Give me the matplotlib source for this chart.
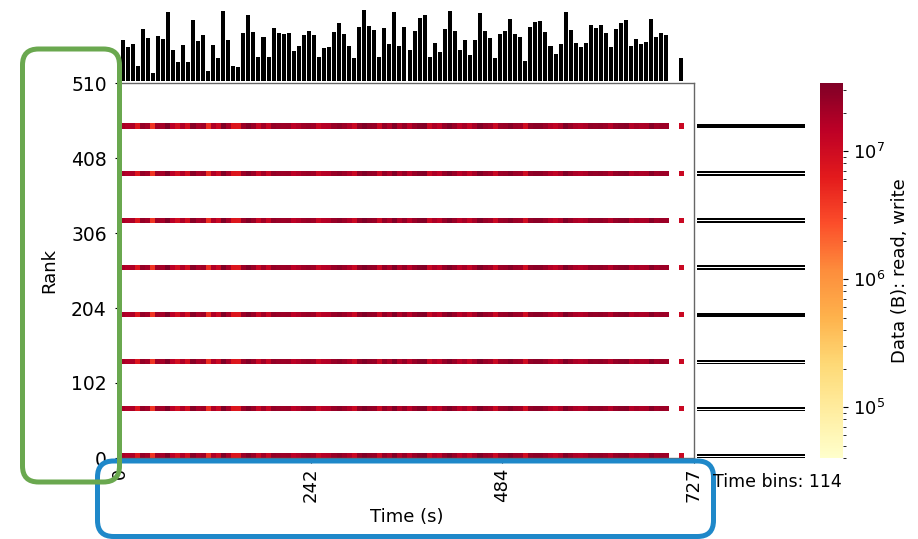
import numpy as np
import matplotlib
matplotlib.use("Agg")
import matplotlib.pyplot as plt
from matplotlib.colors import LogNorm
import matplotlib.patches as mpatches
from matplotlib.transforms import IdentityTransform

# ---------------- data ----------------
n_bins = 114
t_max = 727
n_ranks = 510
x_ticks = [0, 242, 484, 727]
y_ticks = [0, 102, 204, 306, 408, 510]

# relative I/O volume per time bin, bins 0..113
bin_volume = [120,
    100, 110, 45, 153, 127, 25, 133, 125, 204, 90, 55, 107, 57, 179, 119, 135, 28, 107, 68, 206,
    120, 45, 42, 141, 194, 144, 70, 129, 72, 157, 141, 138, 141, 88, 103, 135, 147, 135, 70, 96,
    101, 145, 172, 139, 104, 68, 160, 209, 163, 150, 70, 157, 110, 202, 104, 160, 90, 146, 185, 195,
    70, 113, 85, 153, 207, 148, 90, 120, 78, 120, 200, 148, 128, 68, 139, 148, 183, 139, 130, 60,
    158, 175, 178, 143, 102, 79, 110, 204, 151, 113, 99, 113, 164, 156, 164, 141, 101, 153, 172, 181,
    102, 125, 109, 116, 183, 130, 141, 136,
    0, 0, 68, 0, 0]
bytes_per_unit = 1.63e5          # bytes per rank per unit of bin_volume

io_group_start = [0, 64, 128, 192, 256, 320, 384, 448]
ranks_per_group = 7

vmin, vmax = 4.0e4, 3.4e7

# ---------------- build matrix ----------------
vol = np.array(bin_volume, dtype=float) * bytes_per_unit
mat = np.zeros((n_ranks, n_bins))
for s in io_group_start:
    for r in range(s, s + ranks_per_group):
        mat[r, :] = vol
mat_m = np.ma.masked_less_equal(mat, 0)

# ---------------- figure ----------------
W, H = 918, 539
fig = plt.figure(figsize=(W / 100, H / 100), dpi=100)

def fr(x0, y0, x1, y1):
    return [x0 / W, 1 - y1 / H, (x1 - x0) / W, (y1 - y0) / H]

ax = fig.add_axes(fr(120, 83, 694, 458))
ax_top = fig.add_axes(fr(120, 10, 694, 81))
ax_right = fig.add_axes(fr(697, 83, 805, 458))
cax = fig.add_axes(fr(820, 83, 843, 458))

cmap = plt.get_cmap("YlOrRd").copy()
cmap.set_bad("white")
im = ax.imshow(mat_m, origin="lower", aspect="auto", cmap=cmap,
               norm=LogNorm(vmin=vmin, vmax=vmax),
               extent=[0, t_max, 0, n_ranks], interpolation="nearest")
ax.set_xlim(0, t_max)
ax.set_ylim(0, n_ranks)
ax.set_xticks(x_ticks)
ax.set_xticklabels([str(v) for v in x_ticks], rotation=90, fontsize=13)
ax.set_yticks(y_ticks)
ax.set_yticklabels([str(v) for v in y_ticks], fontsize=13.5)
ax.tick_params(axis="y", pad=6)
ax.set_xlabel("Time (s)", fontsize=13)
ax.set_ylabel("Rank", fontsize=13, labelpad=9)
for sp in ax.spines.values():
    sp.set_color("#666666")
    sp.set_linewidth(1.0)

# top bars: sum over ranks per time bin
edges = np.linspace(0, t_max, n_bins + 1)
bw = edges[1] - edges[0]
centers = edges[:-1] + bw / 2
col_sum = mat.sum(axis=0)
ax_top.bar(centers, col_sum, width=0.8 * bw, color="black")
ax_top.set_xlim(0, t_max)
ax_top.set_ylim(0, col_sum.max())
ax_top.axis("off")

# right bars: sum over time per rank
totals = mat.sum(axis=1)
ranks = np.arange(n_ranks) + 0.5
sel = totals > 0
ax_right.barh(ranks[sel], totals[sel], height=0.7, color="black")
ax_right.set_ylim(0, n_ranks)
ax_right.set_xlim(0, totals.max())
ax_right.axis("off")

cb = fig.colorbar(im, cax=cax)
cb.outline.set_visible(False)
cb.ax.tick_params(labelsize=13)
cb.set_label("Data (B): read, write", fontsize=13)

fig.text(713 / W, 1 - 482 / H, "Time bins: 114", fontsize=12.5, ha="left", va="center")

# annotation boxes (pixel coordinates)
blue = mpatches.FancyBboxPatch((97.5, H - 536.5), 616, 75.5,
                               boxstyle="round,pad=0,rounding_size=16",
                               transform=IdentityTransform(), fill=False,
                               edgecolor="#1f88c9", linewidth=3.6)
green = mpatches.FancyBboxPatch((22.5, H - 482), 97, 433,
                                boxstyle="round,pad=0,rounding_size=16",
                                transform=IdentityTransform(), fill=False,
                                edgecolor="#6aa84f", linewidth=3.6)
fig.add_artist(blue)
fig.add_artist(green)

fig.savefig("out.png", dpi=100)
